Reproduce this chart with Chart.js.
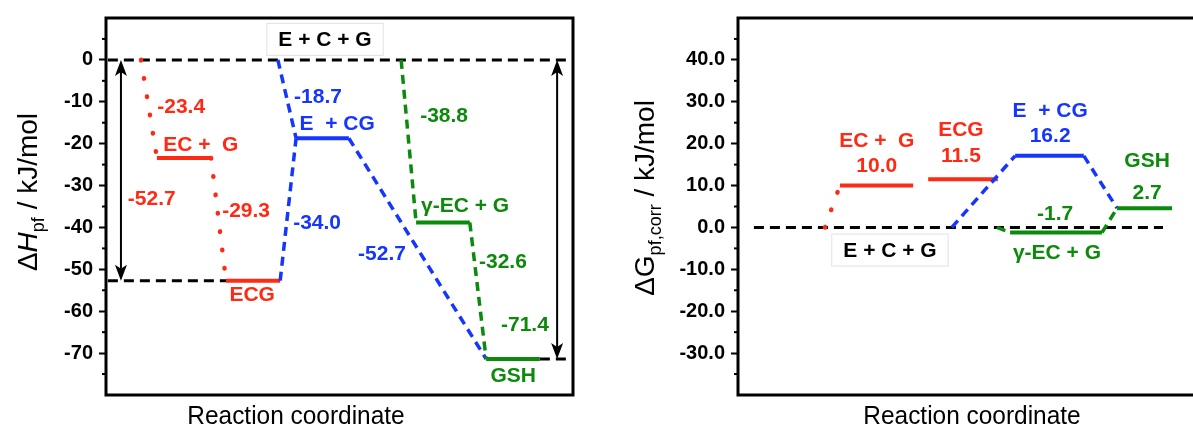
<!DOCTYPE html>
<html>
<head>
<meta charset="utf-8">
<script src="https://cdn.jsdelivr.net/npm/chart.js@4"></script>
<style>
  html, body { margin: 0; padding: 0; background: #fff; }
  #wrap { position: relative; width: 1193px; height: 437px; overflow: hidden; }
  .box { position: absolute; top: 0; height: 437px; }
</style>
</head>
<body>
<div id="wrap">
  <div class="box" style="left:0;width:600px"><canvas id="hChart"></canvas></div>
  <div class="box" style="left:600px;width:593px"><canvas id="gChart"></canvas></div>
</div>
<script>
// species along the reaction path (same order in both panels)
const species = ['E + C + G', 'EC +  G', 'ECG', 'E  + CG', 'γ-EC + G', 'GSH'];
// enthalpies relative to E + C + G, kJ/mol
const dH = [0, -23.4, -52.7, -18.7, -38.8, -71.4];
// corrected free energies as drawn, and the values written beside them
const dG = [0, 10.0, 11.5, 17.1, -1.2, 4.6];
const dGText = ['0.0', '10.0', '11.5', '16.2', '-1.7', '2.7'];
// labelled y ticks
const hTicks = [0, -10, -20, -30, -40, -50, -60, -70];
const gTicks = [40, 30, 20, 10, 0, -10, -20, -30];

const FONT = '"Liberation Sans", Arial, Helvetica, sans-serif';
const RED = '#ff2a14', BLUE = '#1436ff', GREEN = '#0b8a0b';
const fmt = v => v.toFixed(1);

function decor(cfg) {
  return {
    id: 'decor',
    afterDatasetsDraw(chart) {
      const { ctx, chartArea: a, scales: { x, y } } = chart;
      const val = cfg.values;
      ctx.save();
      // frame
      ctx.strokeStyle = '#000';
      ctx.lineWidth = 3;
      ctx.beginPath();
      if (cfg.closed) {
        ctx.rect(a.left, a.top, a.right - a.left, a.bottom - a.top);
      } else {
        ctx.moveTo(a.right + 3, a.top); ctx.lineTo(a.left, a.top);
        ctx.lineTo(a.left, a.bottom); ctx.lineTo(a.right + 3, a.bottom);
      }
      ctx.stroke();
      // minor ticks
      ctx.lineWidth = 2;
      for (let v = cfg.min + 5; v < cfg.max; v += 10) {
        const py = y.getPixelForValue(v);
        ctx.beginPath(); ctx.moveTo(a.left - 4, py); ctx.lineTo(a.left, py); ctx.stroke();
      }
      // double arrows
      ctx.fillStyle = '#000';
      (cfg.arrows || []).forEach(([ax, i0, i1]) => {
        const px = x.getPixelForValue(ax);
        const y0 = y.getPixelForValue(val[i0]), y1 = y.getPixelForValue(val[i1]);
        ctx.lineWidth = 2;
        ctx.beginPath(); ctx.moveTo(px, y0 + 10); ctx.lineTo(px, y1 - 10); ctx.stroke();
        [[y0, 1], [y1, -1]].forEach(([ty, d]) => {
          ctx.beginPath();
          ctx.moveTo(px, ty);
          ctx.lineTo(px - 6, ty + d * 16);
          ctx.lineTo(px, ty + d * 12);
          ctx.lineTo(px + 6, ty + d * 16);
          ctx.closePath(); ctx.fill();
        });
      });
      // annotations
      ctx.textAlign = 'center';
      ctx.textBaseline = 'middle';
      ctx.font = 'bold 21px ' + FONT;
      cfg.notes.forEach(([t, nx, ny, c, boxed]) => {
        const px = x.getPixelForValue(nx), py = y.getPixelForValue(ny);
        if (boxed) {
          const w = ctx.measureText(t).width + 24;
          ctx.fillStyle = '#fff';
          ctx.fillRect(px - w / 2, py - 16.5, w, 33);
          ctx.strokeStyle = '#e2e2e2'; ctx.lineWidth = 1;
          ctx.strokeRect(px - w / 2 + 0.5, py - 16, w - 1, 32);
        }
        ctx.fillStyle = c;
        ctx.fillText(t, px, py + 1);
      });
      // axis titles
      ctx.fillStyle = '#000';
      ctx.textAlign = 'left';
      ctx.textBaseline = 'alphabetic';
      ctx.save();
      ctx.translate(cfg.yTitle.x, cfg.yTitle.y);
      ctx.rotate(-Math.PI / 2);
      let w = 0;
      cfg.yTitle.parts.forEach(([t, f]) => { ctx.font = f; w += ctx.measureText(t).width; });
      let tx = -w / 2;
      cfg.yTitle.parts.forEach(([t, f, dy]) => {
        ctx.font = f; ctx.fillText(t, tx, dy || 0); tx += ctx.measureText(t).width;
      });
      ctx.restore();
      ctx.save();
      ctx.translate(cfg.xTitle[0], cfg.xTitle[1]);
      ctx.scale(0.94, 1);
      ctx.font = '26px ' + FONT;
      ctx.textAlign = 'center';
      ctx.textBaseline = 'middle';
      ctx.fillText('Reaction coordinate', 0, 0);
      ctx.restore();
      ctx.restore();
    }
  };
}

function panel(id, cfg) {
  const pt = ([px, i]) => ({ x: px, y: cfg.values[i] });
  const datasets = [];
  cfg.refs.forEach(p => datasets.push({
    data: p.map(pt), borderColor: '#000', borderWidth: 3, borderDash: [10, 6]
  }));
  cfg.paths.forEach(p => {
    const dash = p.k === 'dot' ? [0.5, 18] : p.k === 'dash' ? [9, 6] : [];
    const flat = s => s.p0.parsed.y === s.p1.parsed.y;
    datasets.push({
      data: p.p.map(pt), borderColor: p.c, borderWidth: 4,
      segment: {
        borderDash: s => flat(s) ? [] : dash,
        borderWidth: s => flat(s) ? 4 : (p.k === 'dot' ? 4.5 : 3.5),
        borderCapStyle: s => flat(s) ? 'butt' : (p.k === 'dot' ? 'round' : 'butt')
      }
    });
  });
  datasets.forEach((d, i) => Object.assign(d, { order: -i, pointRadius: 0, fill: false, tension: 0 }));

  new Chart(document.getElementById(id), {
    type: 'line',
    data: { datasets },
    options: {
      animation: false,
      responsive: true,
      maintainAspectRatio: false,
      events: [],
      layout: { padding: cfg.pad },
      plugins: { legend: { display: false }, tooltip: { enabled: false } },
      scales: {
        x: { type: 'linear', min: 0, max: 100, display: false },
        y: {
          min: cfg.min, max: cfg.max,
          afterFit: s => { s.width = cfg.axisW; },
          border: { display: false },
          grid: {
            drawOnChartArea: false, tickLength: 7, tickWidth: 2,
            tickColor: c => (c.tick && cfg.ticks.includes(c.tick.value)) ? '#000' : 'rgba(0,0,0,0)'
          },
          ticks: {
            stepSize: 5, autoSkip: false, padding: 6, color: '#000',
            font: { family: FONT, size: 20, weight: 'bold' },
            callback: v => cfg.ticks.includes(v) ? cfg.tickText(v) : ''
          }
        }
      }
    },
    plugins: [decor(cfg)]
  });
}

// left panel: enthalpy diagram (x = reaction coordinate, 0–100 across the frame)
panel('hChart', {
  values: dH, min: -80, max: 10, ticks: hTicks, tickText: v => String(v),
  axisW: 106, pad: { left: 0, right: 27, top: 14, bottom: 42 }, closed: true,
  refs: [[[0.4, 0], [99, 0]], [[0.4, 2], [25.7, 2]], [[92.9, 5], [99.6, 5]]],
  paths: [
    { c: RED, k: 'dot', p: [[7.5, 0], [10.9, 1], [22.5, 1], [25.7, 2], [37.3, 2]] },
    { c: BLUE, k: 'dash', p: [[37.3, 2], [40.7, 3]] },
    { c: BLUE, k: 'dash', p: [[36.8, 0], [40.7, 3], [52.0, 3], [81.4, 5]] },
    { c: GREEN, k: 'dash', p: [[63.2, 0], [66.4, 4], [77.9, 4], [81.4, 5], [92.9, 5]] }
  ],
  arrows: [[3.2, 0, 2], [96.6, 0, 5]],
  notes: [
    [species[0], 46.9, 4.9, '#000', true],
    [fmt(dH[1] - dH[0]), 16.1, -11.0, RED],
    [species[1], 20.3, -20.2, RED],
    [fmt(dH[2] - dH[0]), 9.8, -33.0, RED],
    [fmt(dH[2] - dH[1]), 30.0, -35.9, RED],
    [species[2], 31.3, -56.0, RED],
    [fmt(dH[3] - dH[0]), 45.4, -8.7, BLUE],
    [species[3], 49.5, -15.1, BLUE],
    [fmt(dH[2] - dH[3]), 45.2, -38.7, BLUE],
    [fmt(dH[5] - dH[3]), 59.1, -46.2, BLUE],
    [fmt(dH[4] - dH[0]), 72.4, -13.2, GREEN],
    [species[4], 76.9, -34.7, GREEN],
    [fmt(dH[5] - dH[4]), 85.0, -48.0, GREEN],
    [fmt(dH[5] - dH[0]), 89.7, -63.0, GREEN],
    [species[5], 87.2, -75.3, GREEN]
  ],
  yTitle: { x: 37, y: 192, parts: [['Δ', '28px ' + FONT], ['H', 'italic 28px ' + FONT], ['pf', '18px ' + FONT, 7], [' / kJ/mol', '28px ' + FONT]] },
  xTitle: [296, 417]
});

// right panel: corrected free energies
panel('gChart', {
  values: dG, min: -40, max: 50, ticks: gTicks, tickText: v => v.toFixed(1),
  axisW: 138, pad: { left: 0, right: 0, top: 15, bottom: 42 }, closed: false,
  refs: [[[3.5, 0], [93.4, 0]]],
  paths: [
    { c: RED, k: 'dot', p: [[19.1, 0], [22.4, 1], [38.5, 1]] },
    { c: RED, k: 'solid', p: [[41.8, 2], [57.1, 2]] },
    { c: BLUE, k: 'dash', p: [[47.0, 0], [60.9, 3], [76.0, 3], [83.3, 5]] },
    { c: GREEN, k: 'dash', p: [[56.9, 0], [59.8, 4], [80.0, 4], [83.3, 5], [95.4, 5]] }
  ],
  notes: [
    [species[0], 33.4, -5.4, '#000', true],
    [species[1], 30.5, 20.9, RED],
    [dGText[1], 30.5, 14.9, RED],
    [species[2], 49.0, 23.5, RED],
    [dGText[2], 49.0, 17.3, RED],
    [species[3], 68.6, 28.0, BLUE],
    [dGText[3], 68.6, 22.1, BLUE],
    [species[5], 89.9, 16.1, GREEN],
    [dGText[5], 89.9, 8.5, GREEN],
    [dGText[4], 69.7, 3.3, GREEN],
    [species[4], 70.1, -5.9, GREEN]
  ],
  yTitle: { x: 54, y: 198, parts: [['ΔG', '28px ' + FONT], ['pf,corr', '18px ' + FONT, 7], [' / kJ/mol', '28px ' + FONT]] },
  xTitle: [372, 417]
});
</script>
</body>
</html>
